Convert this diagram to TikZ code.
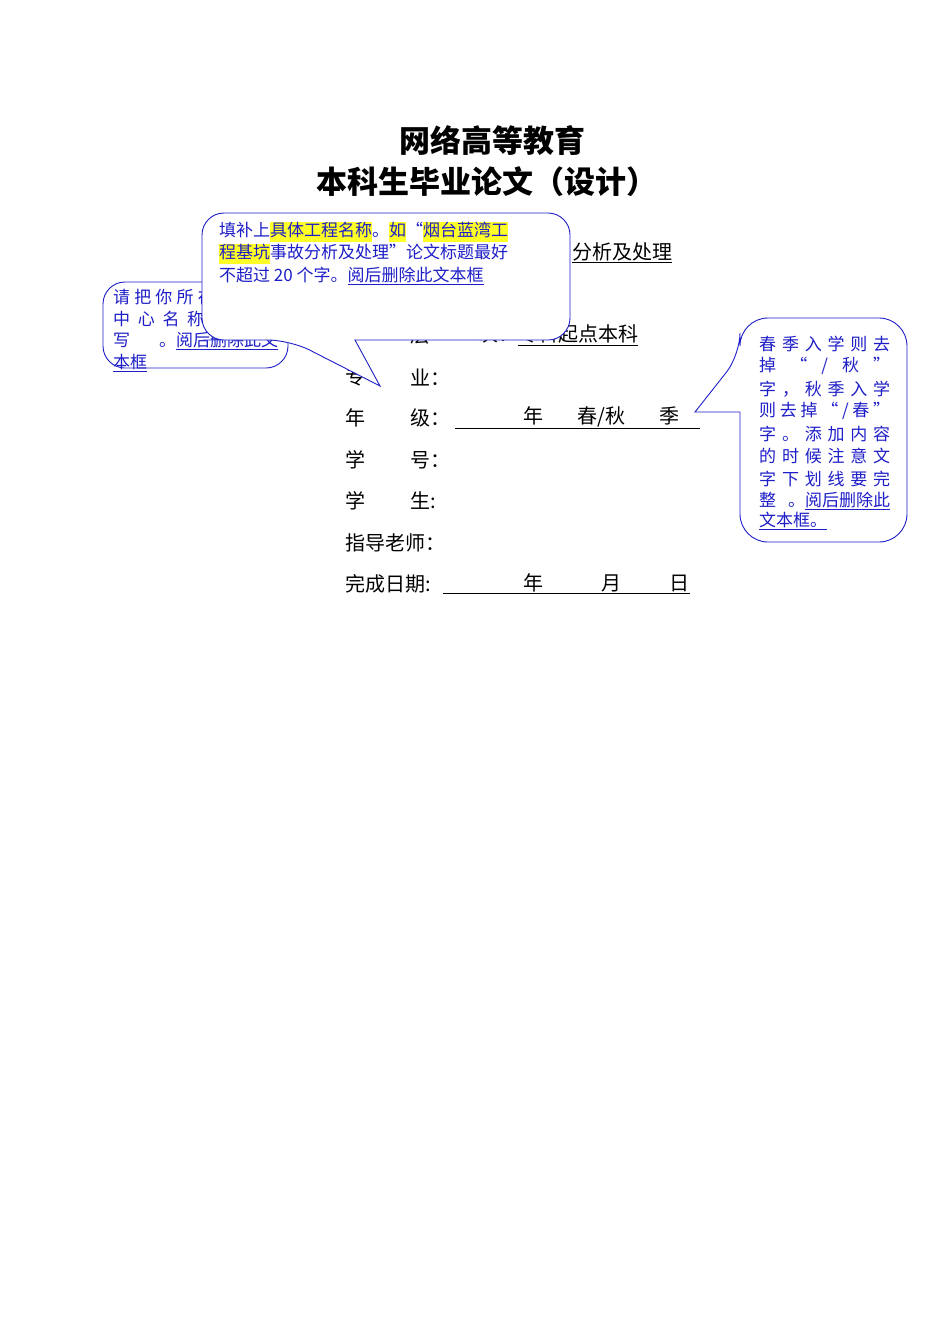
\documentclass[tikz,border=0pt]{standalone}
\usepackage{fontspec}
\usepackage{xcolor}
\setmainfont{Noto Sans CJK SC}
\newfontfamily\cjk{Noto Sans CJK SC}
\definecolor{cb}{RGB}{30,30,200}
\definecolor{hl}{RGB}{255,255,40}
\newcommand{\hlt}[1]{{\setlength{\fboxsep}{0pt}\colorbox{hl}{\strut #1}}}
\newcommand{\ul}[1]{\underline{#1}}
\begin{document}
\begin{tikzpicture}[x=1pt,y=-1pt,
  form/.style={anchor=west,inner sep=0pt,font=\fontsize{20}{20}\selectfont},
  note/.style={anchor=west,inner sep=0pt,text=cb,font=\fontsize{17}{17}\selectfont},
  bubble/.style={draw=cb,fill=white,line width=0.9pt,rounded corners=22pt}]
\useasboundingbox (0,0) rectangle (950,1344);
% titles
\node[inner sep=0pt,font=\fontsize{31}{31}\bfseries\selectfont] (t1) at (492,141) {网络高等教育};
\node[inner sep=0pt,font=\fontsize{31}{31}\bfseries\selectfont] (t2) at (487,182) {本科生毕业论文（设计）};
% form
\node[form] (topic) at (572,253) {\ul{分析及处理}};
\node[form] (c1) at (410,335) {层};
\node[form] (c2) at (478,335) {次：\ul{专科起点本科}};
\node[form] (z1) at (345,377) {专};
\node[form] (z2) at (410,377) {业：};
\node[form] (n1) at (345,418) {年};
\node[form] (n2) at (410,418) {级：};
\node[form] (n3) at (455,418) {\ul{\hbox to 245pt{\hspace{68pt}年\hspace{34pt}春/秋\hspace{34pt}季\hfill}}};
\node[form] (x1) at (345,460) {学};
\node[form] (x2) at (410,460) {号：};
\node[form] (s1) at (345,501) {学};
\node[form] (s2) at (410,501) {生:};
\node[form] (g) at (345,543) {指导老师：};
\node[form] (d1) at (345,584) {完成日期:};
\node[form] (d2) at (443,584) {\ul{\hbox to 247pt{\hspace{80pt}年\hspace{58pt}月\hspace{48pt}日}}};
% left callout
\draw[bubble] (103,282) rectangle (288,368);
\node[note] (l1) at (113,297) {\hbox to 165pt{请\hfill 把\hfill 你\hfill 所\hfill 在\hfill 的\hfill 学\hfill 习}};
\node[note] (l2) at (113,319) {\hbox to 165pt{中\hfill 心\hfill 名\hfill 称\hfill 完\hfill 整\hfill 填}};
\node[note] (l3) at (113,341) {\hbox to 165pt{写\hfill 。\ul{阅后删除此文}}};
\node[note] (l4) at (113,363) {\ul{本框}};
% top callout
\draw[bubble] (380,386) -- (290,340) -- (225,340) [rounded corners=22pt] -- (202,340) -- (202,213) -- (570,213) -- (570,340) [sharp corners]-- (355,340) -- cycle;
\node[note] (m1) at (219,232) {填补上\hlt{具体工程名称}。\hlt{如}“\hlt{烟台蓝湾工}};
\node[note] (m2) at (219,254) {\hlt{程基坑}事故分析及处理”论文标题最好};
\node[note] (m3) at (219,276) {不超过 20 个字。\ul{阅后删除此文本框}};
% right callout
\draw[bubble] (695,412) -- (740,355) [rounded corners=28pt] -- (740,318) -- (907,318) -- (907,542) -- (740,542) [sharp corners] -- (740,412) -- cycle;
\node[note] (r1) at (759,344) {\hbox to 131pt{春\hfill 季\hfill 入\hfill 学\hfill 则\hfill 去}};
\node[note] (r2) at (759,366) {\hbox to 131pt{掉\hfill “\hfill /\hfill 秋\hfill ”}};
\node[note] (r3) at (759,389) {\hbox to 131pt{字\hfill ，\hfill 秋\hfill 季\hfill 入\hfill 学}};
\node[note] (r4) at (759,411) {\hbox to 131pt{则\hfill 去\hfill 掉\hfill “\hfill /\hfill 春\hfill ”}};
\node[note] (r5) at (759,434) {\hbox to 131pt{字\hfill 。\hfill 添\hfill 加\hfill 内\hfill 容}};
\node[note] (r6) at (759,456) {\hbox to 131pt{的\hfill 时\hfill 候\hfill 注\hfill 意\hfill 文}};
\node[note] (r7) at (759,479) {\hbox to 131pt{字\hfill 下\hfill 划\hfill 线\hfill 要\hfill 完}};
\node[note] (r8) at (759,501) {\hbox to 131pt{整\hfill 。\ul{阅后删除此}}};
\node[note] (r9) at (759,521) {\ul{文本框。}};
\end{tikzpicture}
\end{document}
